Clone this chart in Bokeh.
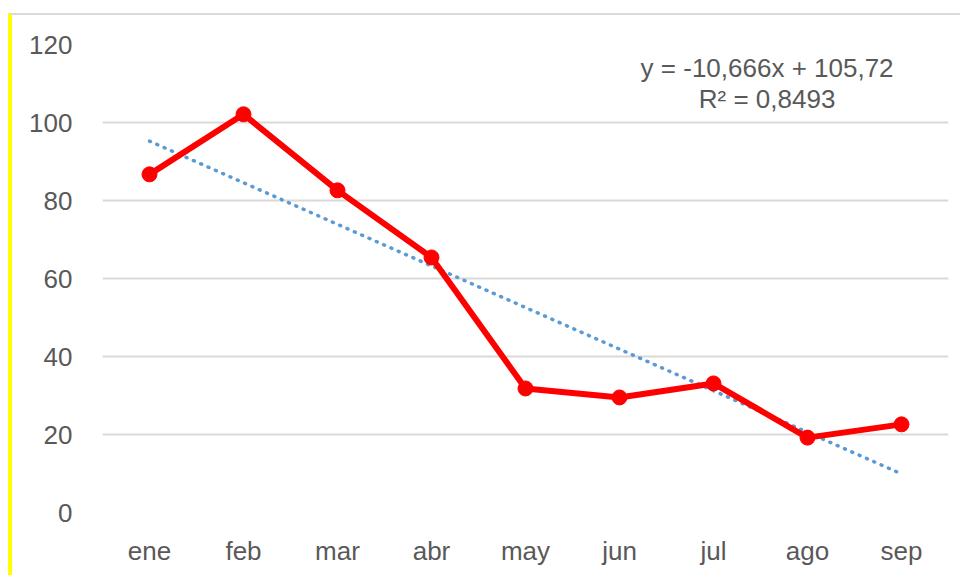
import numpy as np
from bokeh.plotting import figure
from bokeh.models import Range1d, FixedTicker, Label, FactorRange
from bokeh.embed import file_html
from bokeh.resources import INLINE

months = ["ene", "feb", "mar", "abr", "may", "jun", "jul", "ago", "sep"]
values = [86.7, 102.1, 82.6, 65.4, 31.8, 29.5, 33.1, 19.2, 22.6]
y_ticks = [0, 20, 40, 60, 80, 100, 120]
eq_line1 = "y = -10,666x + 105,72"
eq_line2 = "R² = 0,8493"

xi = np.arange(1, len(values) + 1)
slope, intercept = np.polyfit(xi, values, 1)
trend = slope * xi + intercept

FONT = "Liberation Sans"
TXT = "#595959"

p = figure(width=952, height=562, x_range=FactorRange(*months), y_range=Range1d(0, 120),
           output_backend="svg", toolbar_location=None,
           min_border_left=90, min_border_right=16, min_border_top=29, min_border_bottom=65)
p.styles = {"border-left": "4px solid #ffff00", "border-top": "2px solid #d9d9d9",
            "margin-top": "13px", "margin-left": "8px"}
p.outline_line_color = None
p.background_fill_color = "white"
p.border_fill_color = "white"

p.xgrid.grid_line_color = None
p.ygrid.grid_line_color = "#d9d9d9"
p.ygrid.grid_line_width = 2

p.yaxis.ticker = FixedTicker(ticks=y_ticks)
for ax in (p.xaxis[0], p.yaxis[0]):
    ax.axis_line_color = None
    ax.major_tick_line_color = None
    ax.minor_tick_line_color = None
    ax.major_label_text_font = FONT
    ax.major_label_text_color = TXT
    ax.major_label_text_font_size = "26px"
p.yaxis.major_label_standoff = 24
p.xaxis.major_label_standoff = 17

p.line(months, trend, line_color="#5b9bd5", line_width=3.5, line_dash="1 7", line_cap="round")
p.line(months, values, line_color="#ff0000", line_width=6)
p.scatter(months, values, size=15, fill_color="#ff0000", line_color="#ff0000")

for txt, yy in ((eq_line1, 114.1), (eq_line2, 105.9)):
    p.add_layout(Label(x=7.07, y=yy, text=txt, text_align="center", text_baseline="middle",
                       text_font=FONT, text_font_size="26px", text_color=TXT))

open("out.html", "w").write(file_html(p, INLINE))
